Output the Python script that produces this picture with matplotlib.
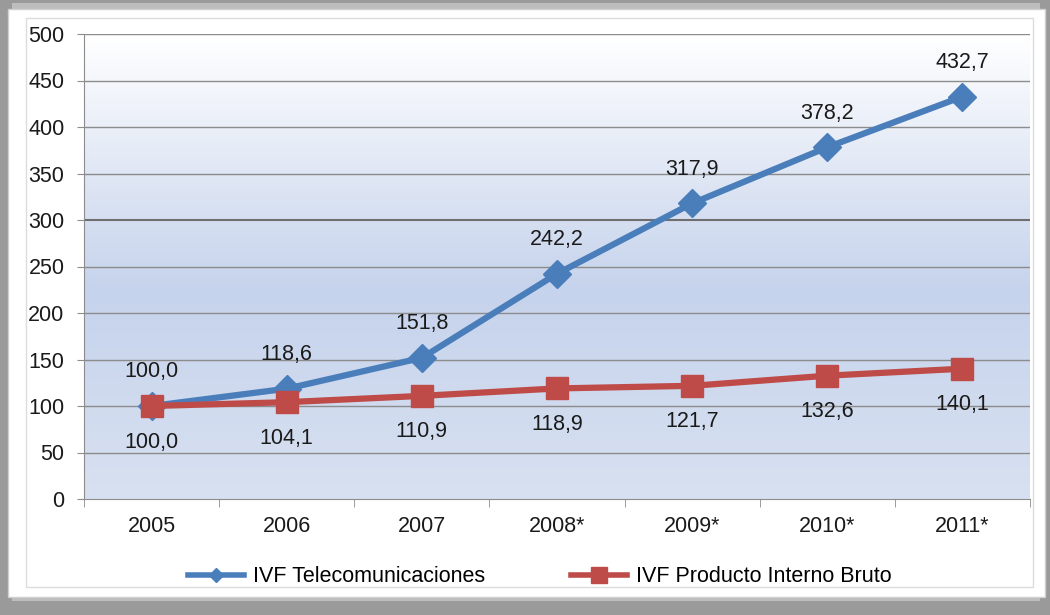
import numpy as np
import matplotlib
matplotlib.use("Agg")
import matplotlib.pyplot as plt
from matplotlib.patches import Rectangle
from matplotlib.colors import LinearSegmentedColormap
from matplotlib.lines import Line2D

plt.rcParams['font.family'] = ['Liberation Sans', 'DejaVu Sans']

years = ["2005", "2006", "2007", "2008*", "2009*", "2010*", "2011*"]
telecom = [100.0, 118.6, 151.8, 242.2, 317.9, 378.2, 432.7]
pib = [100.0, 104.1, 110.9, 118.9, 121.7, 132.6, 140.1]
series_names = ["IVF Telecomunicaciones", "IVF Producto Interno Bruto"]
yticks = [0, 50, 100, 150, 200, 250, 300, 350, 400, 450, 500]

W, H = 1050, 615
FS = 15.5
TXT = '#1a1a1a'
fig = plt.figure(figsize=(W / 100, H / 100), dpi=100)
fig.patch.set_facecolor('white')

# outer frame
fig.patches.append(Rectangle((0, 0), 1, 1, transform=fig.transFigure,
                             facecolor='#9a9a9a', edgecolor='none', zorder=-10))
fig.patches.append(Rectangle((12 / W, 14 / H), (1040 - 12) / W, (612 - 14) / H,
                             transform=fig.transFigure, facecolor='#bdbdbd',
                             edgecolor='none', zorder=-9))
fig.patches.append(Rectangle((8 / W, 18 / H), (1045 - 8) / W, (606 - 18) / H,
                             transform=fig.transFigure, facecolor='white',
                             edgecolor='#d0d0d0', linewidth=1.0, zorder=-8))
fig.patches.append(Rectangle((26 / W, 28 / H), (1033 - 26) / W, (597 - 28) / H,
                             transform=fig.transFigure, facecolor='white',
                             edgecolor='#dcdcdc', linewidth=1.0, zorder=-7))

ax = fig.add_axes([84 / W, 1 - 499 / H, (1030 - 84) / W, (499 - 34) / H])
ax.set_xlim(-0.5, len(years) - 0.5)
ax.set_ylim(0, 500)

# gradient background
cmap = LinearSegmentedColormap.from_list('bg', [(0, '#d8e1f1'), (0.45, '#c6d3ec'), (1.0, '#ffffff')])
grad = np.linspace(0, 1, 256).reshape(-1, 1)
ax.imshow(grad, aspect='auto', cmap=cmap, origin='lower',
          extent=[-0.5, len(years) - 0.5, 0, 500], zorder=0)

for t in yticks[1:]:
    ax.axhline(t, color='#8c8c8c' if t != 300 else '#6e6e6e', linewidth=1.0 if t != 300 else 1.5, zorder=1)

x = np.arange(len(years))
ax.plot(x, telecom, color='#4a7ebb', linewidth=4.5, marker='D', markersize=14,
        label=series_names[0], zorder=3)
ax.plot(x, pib, color='#be4b48', linewidth=4.5, marker='s', markersize=16,
        label=series_names[1], zorder=4)

def fmt(v):
    return f"{v:.1f}".replace('.', ',')

for i, v in enumerate(telecom):
    ax.annotate(fmt(v), (i, v), xytext=(0, 24.5), textcoords='offset points',
                ha='center', va='center', fontsize=FS, color=TXT, zorder=5)
for i, v in enumerate(pib):
    ax.annotate(fmt(v), (i, v), xytext=(0, -26), textcoords='offset points',
                ha='center', va='center', fontsize=FS, color=TXT, zorder=5)

ax.set_yticks(yticks)
ax.set_yticklabels([str(t) for t in yticks], fontsize=FS, color=TXT)
ax.set_xticks(x)
ax.set_xticklabels(years, fontsize=FS, color=TXT)
ax.set_xticks(np.arange(-0.5, len(years), 1), minor=True)
ax.tick_params(axis='x', which='major', length=0, pad=12)
ax.tick_params(axis='x', which='minor', length=6, color='#8c8c8c')
ax.tick_params(axis='y', length=5, color='#8c8c8c', pad=9)
for s in ['top', 'right']:
    ax.spines[s].set_visible(False)
ax.spines['left'].set_color('#8c8c8c')
ax.spines['bottom'].set_color('#8c8c8c')

handles = [Line2D([], [], color='#4a7ebb', linewidth=4, marker='D', markersize=7),
           Line2D([], [], color='#be4b48', linewidth=4, marker='s', markersize=12)]
fig.legend(handles, series_names, loc='center', bbox_to_anchor=(540 / W, 1 - 577 / H),
           ncol=2, frameon=False, fontsize=FS, handlelength=2.6, columnspacing=4.0,
           handletextpad=0.4)

fig.savefig('out.png', dpi=100)
